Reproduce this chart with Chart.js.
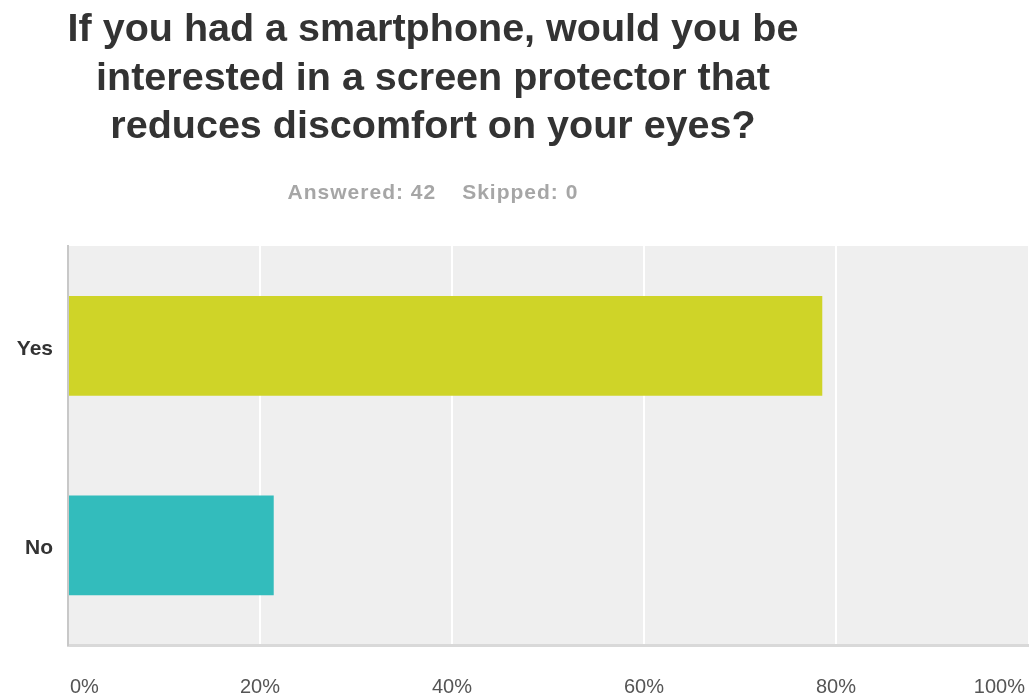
<!DOCTYPE html>
<html>
<head>
<meta charset="utf-8">
<script src="https://cdn.jsdelivr.net/npm/chart.js@4"></script>
<style>
    body { margin: 0; background: #fff; }
    #wrap { position: relative; width: 1031px; height: 698px; }
    #title {
        position: absolute; left: 0; top: 3px; width: 866px;
        text-align: center; font-family: 'Liberation Sans', Arial, sans-serif;
        font-weight: bold; font-size: 39.5px; line-height: 48.5px; color: #333;
    }
    #sub {
        position: absolute; left: 0; top: 180px; width: 866px;
        text-align: center; font-family: 'Liberation Sans', Arial, sans-serif;
        font-weight: bold; font-size: 21px; line-height: 24px; color: #a6a6a6;
        letter-spacing: 1px;
    }
    #sub span + span { margin-left: 26px; }
    canvas { position: absolute; left: 0; top: 0; }
</style>
</head>
<body>
<div id="wrap">
    <canvas id="chart" width="1031" height="698"></canvas>
    <div id="title">If you had a smartphone, would you be<br>interested in a screen protector that<br>reduces discomfort on your eyes?</div>
    <div id="sub"><span>Answered: 42</span><span>Skipped: 0</span></div>
</div>
<script>
const categories = ['Yes', 'No'];
const percentages = [78.57, 21.43];
const barColors = ['#cfd428', '#33bcbc'];
const tickValues = [0, 20, 40, 60, 80, 100];

// Plot area background (light gray panel)
const panelBg = {
    id: 'panelBg',
    beforeDraw(chart) {
        const { ctx, chartArea: a } = chart;
        ctx.save();
        ctx.fillStyle = '#efefef';
        ctx.fillRect(a.left, a.top, a.right - a.left, a.bottom - a.top);
        ctx.restore();
    }
};

// X tick labels, first/last kept inside the plot edges
const xLabels = {
    id: 'xLabels',
    afterDraw(chart) {
        const { ctx } = chart;
        const x = chart.scales.x;
        ctx.save();
        ctx.font = '20px "Liberation Sans", Arial, sans-serif';
        ctx.fillStyle = '#555';
        ctx.textBaseline = 'alphabetic';
        tickValues.forEach((v, i) => {
            let px = x.getPixelForValue(v);
            if (i === 0) { ctx.textAlign = 'left'; px += 2; }
            else if (i === tickValues.length - 1) { ctx.textAlign = 'right'; px -= 3; }
            else ctx.textAlign = 'center';
            ctx.fillText(v + '%', px, 693);
        });
        ctx.restore();
    }
};

new Chart(document.getElementById('chart'), {
    type: 'bar',
    data: {
        labels: categories,
        datasets: [{
            data: percentages,
            backgroundColor: barColors,
            borderWidth: 0,
            barPercentage: 0.5,
            categoryPercentage: 1
        }]
    },
    options: {
        indexAxis: 'y',
        responsive: false,
        animation: false,
        layout: { padding: { top: 246, right: 3, left: 0, bottom: 0 } },
        plugins: {
            legend: { display: false },
            tooltip: { enabled: false }
        },
        scales: {
            x: {
                min: 0,
                max: 100,
                ticks: { display: false, stepSize: 20 },
                grid: {
                    drawTicks: false,
                    lineWidth: 2,
                    color: (c) => (c.tick && (c.tick.value === 0 || c.tick.value === 100)) ? 'rgba(0,0,0,0)' : '#ffffff'
                },
                border: { color: '#d9d9d9', width: 3 },
                afterFit: (axis) => { axis.height = 53; }
            },
            y: {
                grid: { display: false, drawTicks: false },
                border: { color: '#c8c8c8', width: 2 },
                ticks: {
                    padding: 15,
                    labelOffset: 3,
                    color: '#333',
                    font: { family: '"Liberation Sans", Arial, sans-serif', size: 21, weight: 'bold' }
                },
                afterFit: (axis) => { axis.width = 68; }
            }
        }
    },
    plugins: [panelBg, xLabels]
});
</script>
</body>
</html>
